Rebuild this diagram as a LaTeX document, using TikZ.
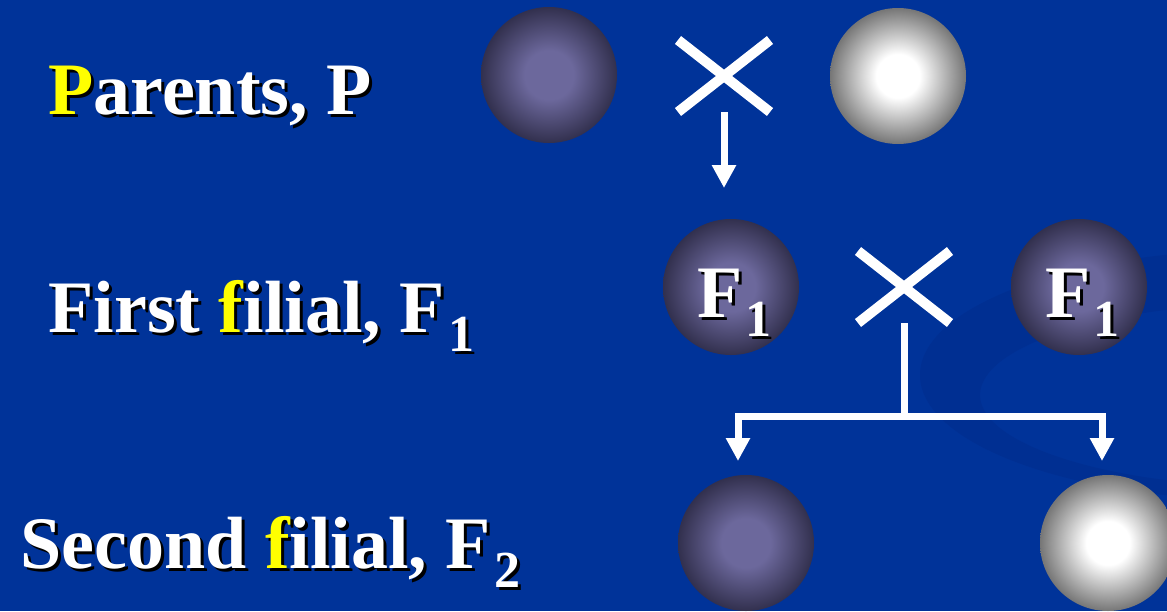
\documentclass[tikz,border=0pt]{standalone}
\usepackage{fontspec}
\setmainfont{Liberation Serif}
\usetikzlibrary{arrows.meta,shapes.misc}

\definecolor{slideblue}{RGB}{0,51,153}
\definecolor{swooshblue}{RGB}{0,47,146}
\definecolor{hlyellow}{RGB}{255,255,0}
\definecolor{shadowc}{RGB}{0,0,0}
\definecolor{balldark}{RGB}{50,48,78}
\definecolor{balllight}{RGB}{108,104,156}
\definecolor{ballgray}{RGB}{118,118,118}

% the circle edge sits at 25bp of the shading
\pgfdeclareradialshading{darkshade}{\pgfpoint{0bp}{0bp}}{color(0bp)=(balllight); color(9bp)=(balllight); color(25bp)=(balldark); color(50bp)=(balldark)}
\pgfdeclareradialshading{whiteshade}{\pgfpoint{0bp}{0bp}}{color(0bp)=(white); color(8bp)=(white); color(25bp)=(ballgray); color(50bp)=(ballgray)}

% highlighted letter, turned to shadow colour in the shadow copy
\newcommand{\hlc}{hlyellow}
\newcommand{\hl}[1]{\textcolor{\hlc}{#1}}
\newcommand{\lowidx}[1]{\kern1.5pt\raisebox{-9.5pt}{\fontsize{26}{26}\selectfont #1}}
% text with a drop shadow: name, position, anchor, text
\newcommand{\shadowlabel}[4]{%
  \node[lbl,anchor=#3,text=shadowc,xshift=1.5pt,yshift=-1.5pt] (#1-sh) at (#2) {\renewcommand{\hlc}{shadowc}#4};
  \node[lbl,anchor=#3] (#1) at (#2) {#4};}

\tikzset{
  lbl/.style={inner sep=0pt,text=white,font=\fontsize{37}{40}\selectfont\bfseries},
  ball/.style={circle,minimum size=68pt,inner sep=0pt},
  dball/.style={ball,shading=darkshade},
  wball/.style={ball,shading=whiteshade},
  crossmark/.style={cross out,draw=white,line width=5pt,minimum width=41pt,minimum height=31pt,inner sep=0pt},
  stem/.style={draw=white,line width=3.5pt},
  arr/.style={stem,-{Triangle[width=11.5pt,length=11.5pt]}}
}

\begin{document}
\begin{tikzpicture}[x=0.5pt,y=-0.5pt]
\useasboundingbox (0,0) rectangle (1167,611);
\fill[slideblue] (0,0) rectangle (1167,611);
\begin{scope}
  \clip (0,0) rectangle (1167,611);
  \fill[swooshblue,even odd rule] (1260,375) ellipse [x radius=340,y radius=125]
    (1280,395) ellipse [x radius=300,y radius=92];
\end{scope}

% parents
\node[dball] (p1) at (549,75) {};
\node[crossmark] (x1) at (724,76) {};
\node[wball] (p2) at (898,76) {};
\coordinate (a1) at (724,188);
\draw[arr] (x1.south) -- (a1);

% first filial
\node[dball] (fa) at (731,287) {};
\node[crossmark] (x2) at (904,287) {};
\node[dball] (fb) at (1079,287) {};
\shadowlabel{fa-txt}{[shift={(-34,30)}]fa.center}{base west}{F\lowidx{1}}
\shadowlabel{fb-txt}{[shift={(-34,30)}]fb.center}{base west}{F\lowidx{1}}

% branch to second filial
\coordinate (jn) at (904,416);
\coordinate (t1) at (738,461);
\coordinate (t2) at (1102,461);
\draw[stem] (x2.south) -- (jn);
\draw[arr] (jn) -| (t1);
\draw[arr] (jn) -| (t2);

% second filial
\node[dball] (sa) at (746,543) {};
\node[wball] (sb) at (1108,543) {};

% row titles
\shadowlabel{lp}{48,114}{base west}{\hl{P}arents, P}
\shadowlabel{lf}{48,332}{base west}{First \hl{f}ilial, F\lowidx{1}}
\shadowlabel{ls}{20,568}{base west}{Second \hl{f}ilial, F\lowidx{2}}
\end{tikzpicture}
\end{document}
